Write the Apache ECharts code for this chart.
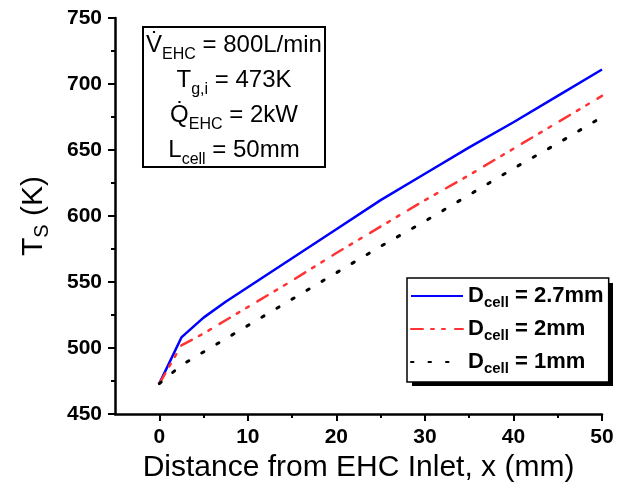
<!DOCTYPE html>
<html>
<head>
<meta charset="utf-8">
<script src="https://cdn.jsdelivr.net/npm/echarts@6/dist/echarts.min.js"></script>
<style>
  html, body { margin: 0; padding: 0; background: #fff; }
  #chart { width: 628px; height: 492px; }
</style>
</head>
<body>
<div id="chart"></div>
<script>
// distance from EHC inlet (mm)
const xValues = [0, 2.5, 5, 7.5, 10, 15, 20, 25, 30, 35, 40, 45, 50];
// surface temperature (K) for each cell size
const tsCell27 = [473, 508, 523, 535, 546, 568, 590, 612, 632, 652, 671, 691, 711];
const tsCell2 = [473, 502, 511, 521, 531, 551, 572, 592, 612, 631, 651, 671, 691];
const tsCell1 = [473, 487, 497, 507, 517, 537, 557, 577, 596, 616, 636, 655, 675];

const seriesNames = ['2.7mm', '2mm', '1mm'];
const xMajorTicks = [0, 10, 20, 30, 40, 50];
const xMinorTicks = [5, 15, 25, 35, 45];

const FONT = 'Liberation Sans, Arial, sans-serif';

// annotation lines: [main, sub, rest]
const infoLines = [
    ['V\u0307', 'EHC', ' = 800L/min'],
    ['T', 'g,i', ' = 473K'],
    ['Q\u0307', 'EHC', ' = 2kW'],
    ['L', 'cell', ' = 50mm']
];

function pairs(ys) {
    return xValues.map((x, i) => [x, ys[i]]);
}

const chart = echarts.init(document.getElementById('chart'));

const options = {
    backgroundColor: '#fff',
    animation: false,
    grid: {
        left: 115,
        right: 26,
        top: 18,
        bottom: 78
    },
    legend: {
        orient: 'vertical',
        left: 407,
        top: 278,
        z: 6,
        padding: [7, 5, 6, 3],
        itemWidth: 52,
        itemHeight: 14,
        itemGap: 8,
        backgroundColor: '#fff',
        borderColor: '#000',
        borderWidth: 1.5,
        borderRadius: 0,
        itemStyle: { opacity: 0 },
        formatter: function (name) {
            return '{b|D}{s|cell}{b| = ' + name + '}';
        },
        textStyle: {
            rich: {
                b: { fontFamily: FONT, fontSize: 22, fontWeight: 'bold', color: '#000', lineHeight: 28 },
                s: { fontFamily: FONT, fontSize: 15, fontWeight: 'bold', color: '#000', lineHeight: 15, verticalAlign: 'bottom' }
            }
        },
        data: seriesNames
    },
    xAxis: [
        {
            type: 'value',
            min: -5,
            max: 50,
            interval: 5,
            name: 'Distance from EHC Inlet, x (mm)',
            nameLocation: 'middle',
            nameGap: 35,
            nameTextStyle: { fontFamily: FONT, fontSize: 30, color: '#000' },
            axisLine: { show: true, onZero: false, lineStyle: { color: '#000', width: 2.5 } },
            axisTick: { show: true, customValues: xMajorTicks, length: 7, lineStyle: { color: '#000', width: 2 } },
            axisLabel: {
                customValues: xMajorTicks,
                margin: 13,
                fontFamily: FONT, fontSize: 21, fontWeight: 'bold', color: '#000'
            },
            splitLine: { show: false }
        },
        {
            type: 'value',
            position: 'bottom',
            min: -5,
            max: 50,
            interval: 5,
            axisLine: { show: false },
            axisTick: { show: true, customValues: xMinorTicks, length: 4, lineStyle: { color: '#000', width: 2 } },
            axisLabel: { show: false },
            splitLine: { show: false }
        }
    ],
    yAxis: {
        type: 'value',
        min: 450,
        max: 750,
        interval: 50,
        name: '{t|T}{s|S}{t| (K)}',
        nameLocation: 'middle',
        nameRotate: 90,
        nameGap: 63,
        nameTextStyle: {
            rich: {
                t: { fontFamily: FONT, fontSize: 30, color: '#000', lineHeight: 36 },
                s: { fontFamily: FONT, fontSize: 20, color: '#000', lineHeight: 22, verticalAlign: 'bottom' }
            }
        },
        axisLine: { show: true, onZero: false, lineStyle: { color: '#000', width: 2.5 } },
        axisTick: { show: true, length: 7, lineStyle: { color: '#000', width: 2 } },
        minorTick: { show: true, splitNumber: 2, length: 4, lineStyle: { color: '#000', width: 2 } },
        axisLabel: { margin: 13, fontFamily: FONT, fontSize: 21, fontWeight: 'bold', color: '#000' },
        splitLine: { show: false }
    },
    graphic: [
        {
            // annotation box
            type: 'rect',
            shape: { x: 143, y: 27, width: 182, height: 140 },
            style: { fill: '#fff', stroke: '#000', lineWidth: 2 },
            z: 10
        },
        {
            type: 'text',
            x: 234,
            y: 28,
            z: 11,
            style: {
                text: infoLines.map(l => '{b|' + l[0] + '}{s|' + l[1] + '}{b|' + l[2] + '}').join('\n'),
                align: 'center',
                verticalAlign: 'top',
                rich: {
                    b: { fontFamily: FONT, fontSize: 24, fill: '#000', lineHeight: 35 },
                    s: { fontFamily: FONT, fontSize: 16, fill: '#000', lineHeight: 22, verticalAlign: 'bottom' }
                }
            }
        },
        {
            // hard shadow behind the legend box
            type: 'rect',
            shape: { x: 412, y: 283, width: 201, height: 103 },
            style: { fill: '#000' },
            z: 5
        }
    ],
    series: [
        {
            name: seriesNames[0],
            type: 'line',
            data: pairs(tsCell27),
            showSymbol: false,
            symbol: 'none',
            lineStyle: { color: '#0000ff', width: 2.5 },
            itemStyle: { color: '#0000ff' }
        },
        {
            name: seriesNames[1],
            type: 'line',
            data: pairs(tsCell2),
            showSymbol: false,
            symbol: 'none',
            lineStyle: { color: '#ff3333', width: 2.5, type: [12, 8, 3, 8, 3, 10], cap: 'round' },
            itemStyle: { color: '#ff3333' }
        },
        {
            name: seriesNames[2],
            type: 'line',
            data: pairs(tsCell1),
            showSymbol: false,
            symbol: 'none',
            lineStyle: { color: '#000', width: 3, type: [2.5, 15], cap: 'round' },
            itemStyle: { color: '#000' }
        }
    ]
};

chart.setOption(options);
</script>
</body>
</html>
